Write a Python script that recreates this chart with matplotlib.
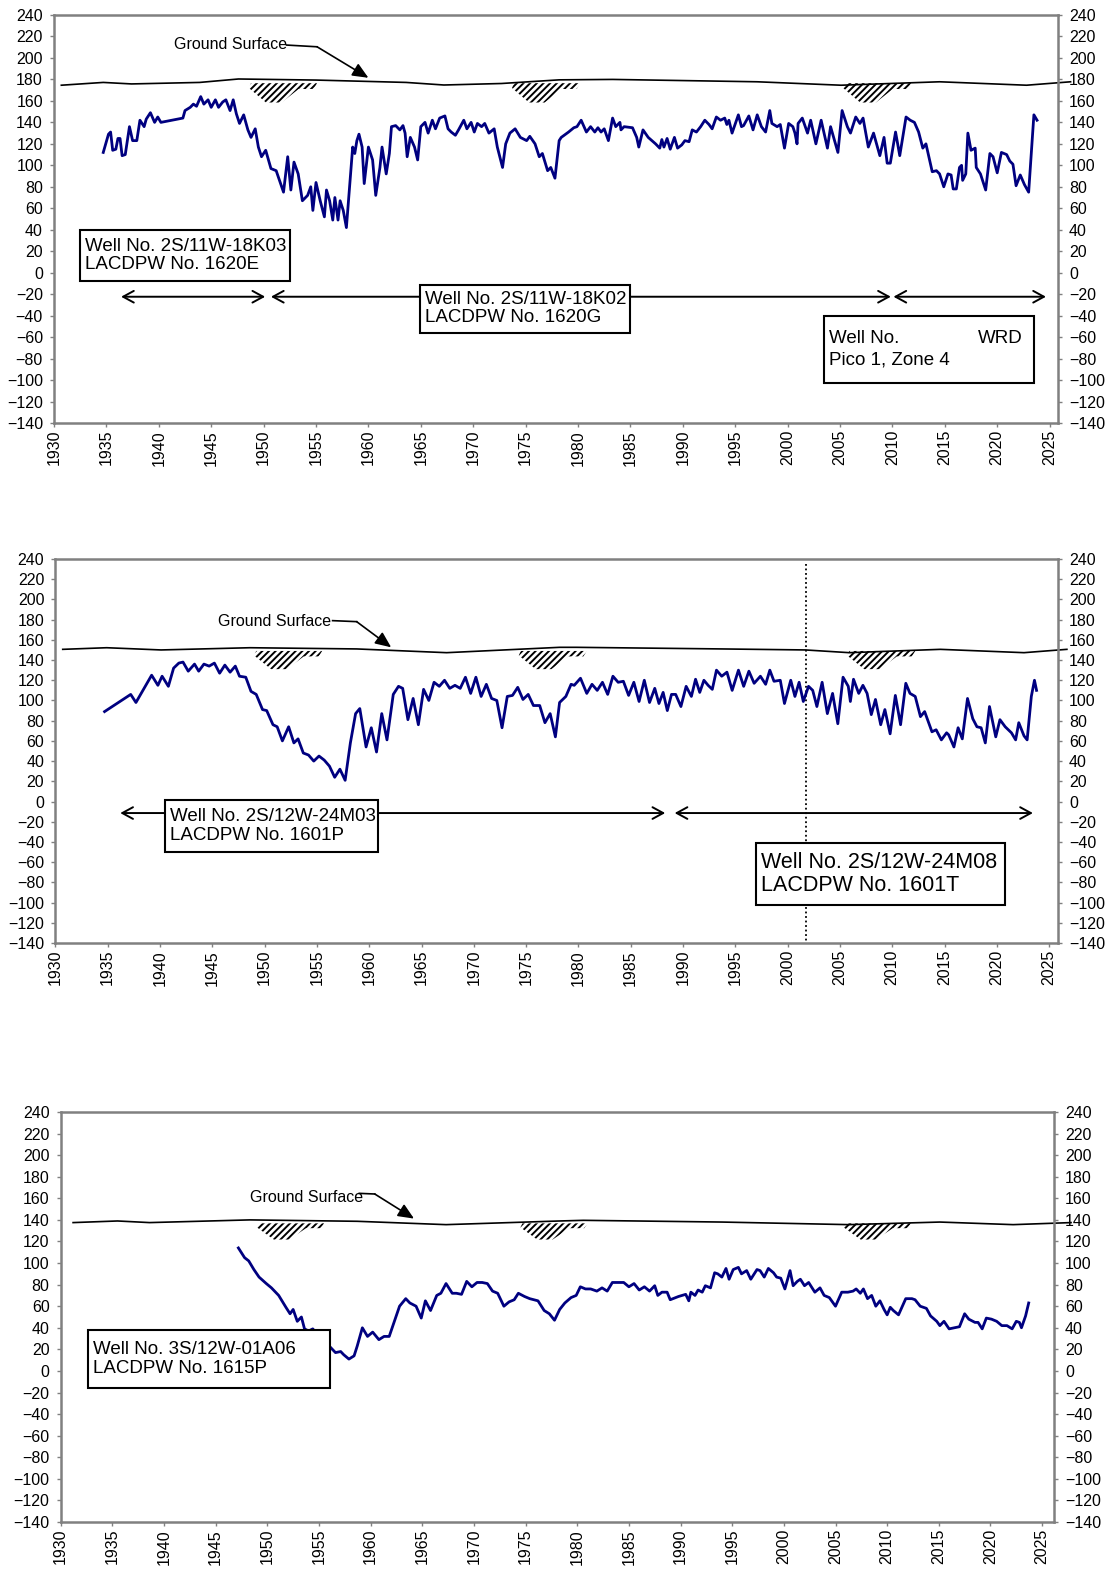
import matplotlib
matplotlib.use("Agg")
import matplotlib.pyplot as plt
from matplotlib.patches import Polygon, Rectangle

plt.rcParams["font.family"] = ["Liberation Sans", "DejaVu Sans"]
plt.rcParams["hatch.linewidth"] = 1.4

X_TICKS = list(range(1930, 2026, 5))
Y_TICKS = list(range(-140, 241, 20))

# Well 2S/11W-18K03 / 18K02 / Pico 1 water levels
p1_year = [1934.7, 1935.2, 1935.4, 1935.6, 1935.9, 1936.1, 1936.3, 1936.5, 1936.8, 1937.2, 1937.5, 1937.9,
           1938.2, 1938.6, 1938.8, 1939.2, 1939.6, 1939.9, 1940.2, 1942.3, 1942.5, 1943.0, 1943.3, 1943.6,
           1944.0, 1944.3, 1944.7, 1945.0, 1945.4, 1945.7, 1946.1, 1946.4, 1946.8, 1947.1, 1947.4, 1947.7,
           1948.1, 1948.5, 1948.8, 1949.2, 1949.5, 1949.8, 1950.2, 1950.7, 1951.2, 1951.9, 1952.3, 1952.6,
           1952.9, 1953.3, 1953.7, 1954.2, 1954.5, 1954.7, 1955.0, 1955.4, 1955.8, 1956.0, 1956.3, 1956.6,
           1956.8, 1957.1, 1957.3, 1957.6, 1957.9, 1958.2, 1958.5, 1958.7, 1958.9, 1959.1, 1959.4, 1959.6,
           1960.0, 1960.4, 1960.7, 1961.1, 1961.3, 1961.7, 1962.0, 1962.2, 1962.6, 1963.0, 1963.3, 1963.5,
           1963.7, 1964.0, 1964.4, 1964.7, 1965.0, 1965.4, 1965.7, 1966.1, 1966.4, 1966.8, 1967.3, 1967.6,
           1967.9, 1968.3, 1968.6, 1969.1, 1969.4, 1969.8, 1970.1, 1970.4, 1970.8, 1971.1, 1971.5, 1972.0,
           1972.3, 1972.8, 1973.1, 1973.5, 1974.0, 1974.5, 1975.1, 1975.4, 1975.9, 1976.3, 1976.6, 1977.1,
           1977.4, 1977.8, 1978.2, 1978.4, 1979.1, 1979.6, 1979.9, 1980.3, 1980.8, 1981.2, 1981.6, 1981.9,
           1982.2, 1982.5, 1982.9, 1983.3, 1983.6, 1984.0, 1984.1, 1984.4, 1985.2, 1985.6, 1985.8, 1986.2,
           1986.7, 1987.4, 1987.8, 1988.0, 1988.2, 1988.5, 1988.8, 1989.2, 1989.5, 1989.9, 1990.2, 1990.6,
           1990.9, 1991.3, 1991.7, 1992.1, 1992.5, 1992.8, 1993.2, 1993.6, 1994.0, 1994.2, 1994.4, 1994.7,
           1995.3, 1995.6, 1995.8, 1996.3, 1996.7, 1997.1, 1997.5, 1997.9, 1998.3, 1998.5, 1999.0, 1999.3,
           1999.7, 2000.1, 2000.5, 2000.7, 2000.9, 2001.0, 2001.4, 2001.9, 2002.2, 2002.7, 2003.2, 2003.8,
           2004.1, 2004.8, 2005.2, 2005.7, 2006.0, 2006.5, 2006.9, 2007.2, 2007.7, 2008.2, 2008.8, 2009.2,
           2009.5, 2009.8, 2010.3, 2010.7, 2011.3, 2011.7, 2012.1, 2012.5, 2012.9, 2013.2, 2013.8, 2014.2,
           2014.5, 2014.9, 2015.3, 2015.6, 2015.8, 2016.1, 2016.4, 2016.6, 2016.7, 2017.0, 2017.2, 2017.5,
           2017.9, 2018.0, 2018.4, 2018.9, 2019.3, 2019.6, 2020.0, 2020.4, 2020.9, 2021.2, 2021.5, 2021.8,
           2022.2, 2022.6, 2023.0, 2023.5, 2023.8]
p1_level = [112, 129, 131, 114, 115, 125, 125, 109, 110, 136, 123, 123,
            142, 136, 143, 149, 140, 145, 140, 144, 151, 154, 157, 155,
            164, 157, 161, 154, 161, 154, 159, 161, 151, 161, 148, 139,
            147, 133, 126, 134, 117, 108, 114, 97, 95, 75, 108, 77,
            103, 92, 67, 72, 80, 58, 84, 67, 52, 77, 67, 49,
            70, 49, 67, 58, 42, 80, 117, 111, 123, 129, 117, 83,
            117, 105, 72, 98, 117, 92, 111, 136, 137, 133, 137, 130,
            108, 126, 117, 105, 136, 140, 130, 142, 134, 144, 146, 134,
            131, 128, 133, 142, 134, 140, 131, 139, 136, 139, 130, 134,
            117, 98, 120, 130, 134, 126, 123, 127, 120, 108, 111, 95,
            98, 88, 123, 126, 131, 135, 136, 142, 131, 136, 131, 135,
            131, 134, 123, 144, 136, 140, 133, 136, 135, 126, 117, 133,
            126, 120, 116, 124, 117, 125, 115, 126, 116, 119, 123, 122,
            133, 131, 136, 142, 138, 134, 145, 142, 144, 138, 142, 130,
            147, 136, 137, 146, 133, 147, 136, 131, 151, 139, 136, 138,
            116, 139, 136, 130, 120, 139, 144, 130, 142, 120, 142, 116,
            136, 112, 151, 136, 130, 145, 139, 144, 117, 130, 109, 126,
            102, 102, 131, 109, 145, 142, 140, 131, 116, 120, 94, 95,
            92, 80, 92, 91, 78, 78, 98, 100, 86, 92, 130, 114,
            116, 98, 92, 77, 111, 108, 93, 112, 110, 104, 101, 81,
            91, 82, 75, 147, 142]

# Well 2S/12W-24M03 / 24M08 water levels
p2_year = [1934.7, 1937.2, 1937.7, 1939.2, 1939.8, 1940.2, 1940.8, 1941.3, 1941.8, 1942.2, 1942.7, 1943.3,
           1943.7, 1944.2, 1944.7, 1945.2, 1945.7, 1946.2, 1946.7, 1947.2, 1947.6, 1948.2, 1948.7, 1949.2,
           1949.8, 1950.2, 1950.8, 1951.2, 1951.7, 1952.3, 1952.8, 1953.2, 1953.7, 1954.2, 1954.7, 1955.2,
           1955.7, 1956.2, 1956.7, 1957.2, 1957.7, 1958.2, 1958.7, 1959.1, 1959.7, 1960.2, 1960.7, 1961.2,
           1961.7, 1962.3, 1962.8, 1963.2, 1963.7, 1964.2, 1964.7, 1965.2, 1965.7, 1966.2, 1966.7, 1967.2,
           1967.7, 1968.2, 1968.7, 1969.2, 1969.7, 1970.2, 1970.7, 1971.2, 1971.7, 1972.2, 1972.7, 1973.2,
           1973.7, 1974.2, 1974.7, 1975.2, 1975.7, 1976.3, 1976.8, 1977.3, 1977.8, 1978.2, 1978.8, 1979.3,
           1979.6, 1980.2, 1980.8, 1981.3, 1981.8, 1982.3, 1982.8, 1983.3, 1983.8, 1984.3, 1984.8, 1985.3,
           1985.8, 1986.3, 1986.8, 1987.3, 1987.7, 1988.1, 1988.5, 1988.9, 1989.3, 1989.8, 1990.3, 1990.8,
           1991.2, 1991.6, 1992.0, 1992.4, 1992.8, 1993.2, 1993.7, 1994.2, 1994.7, 1995.3, 1995.8, 1996.3,
           1996.8, 1997.4, 1997.9, 1998.3, 1998.7, 1999.3, 1999.7, 2000.3, 2000.7, 2001.1, 2001.5, 2002.0,
           2002.4, 2002.8, 2003.3, 2003.8, 2004.3, 2004.8, 2005.3, 2005.8, 2006.0, 2006.3, 2006.8, 2007.2,
           2007.6, 2008.0, 2008.4, 2008.9, 2009.3, 2009.8, 2010.3, 2010.8, 2011.3, 2011.7, 2012.2, 2012.7,
           2013.1, 2013.8, 2014.2, 2014.7, 2015.2, 2015.4, 2015.9, 2016.3, 2016.7, 2017.2, 2017.7, 2018.1,
           2018.5, 2018.9, 2019.3, 2019.6, 2019.9, 2020.3, 2020.8, 2021.4, 2021.8, 2022.1, 2022.6, 2022.9,
           2023.3, 2023.6, 2023.8]
p2_level = [89, 106, 98, 125, 115, 124, 114, 132, 137, 138, 129, 136,
            129, 136, 134, 137, 127, 135, 128, 134, 124, 123, 109, 106,
            91, 90, 76, 74, 60, 74, 58, 62, 48, 46, 40, 45,
            41, 35, 24, 32, 21, 58, 87, 92, 54, 73, 49, 87,
            61, 106, 114, 112, 81, 102, 76, 111, 100, 118, 114, 120,
            112, 115, 112, 123, 107, 123, 104, 116, 102, 100, 73, 104,
            105, 113, 101, 106, 95, 95, 78, 87, 64, 98, 104, 116,
            115, 122, 107, 116, 110, 118, 106, 124, 118, 119, 105, 118,
            99, 120, 98, 112, 97, 108, 90, 106, 106, 94, 114, 104,
            121, 108, 120, 115, 111, 130, 124, 128, 110, 130, 114, 129,
            117, 124, 116, 130, 119, 120, 97, 120, 104, 118, 99, 114,
            110, 94, 118, 87, 107, 77, 123, 114, 99, 121, 107, 115,
            107, 86, 101, 76, 91, 67, 105, 76, 117, 107, 104, 84,
            89, 69, 71, 61, 68, 66, 54, 73, 62, 102, 82, 74,
            73, 58, 94, 79, 64, 81, 74, 68, 61, 78, 65, 61,
            104, 120, 110]

# Well 3S/12W-01A06 water levels
p3_year = [1947.2, 1947.8, 1948.2, 1948.7, 1949.2, 1949.9, 1950.4, 1951.1, 1951.8, 1952.2, 1952.5, 1952.9,
           1953.3, 1953.6, 1954.0, 1954.4, 1955.2, 1956.1, 1956.6, 1957.1, 1957.4, 1957.9, 1958.4, 1958.7,
           1959.2, 1959.7, 1960.2, 1960.8, 1961.3, 1961.8, 1962.3, 1962.8, 1963.4, 1963.8, 1964.4, 1964.9,
           1965.3, 1965.8, 1966.4, 1966.8, 1967.3, 1967.9, 1968.3, 1968.8, 1969.3, 1969.8, 1970.3, 1970.8,
           1971.3, 1971.8, 1972.3, 1972.9, 1973.4, 1973.9, 1974.3, 1974.9, 1975.4, 1976.2, 1976.8, 1977.3,
           1977.8, 1978.3, 1978.8, 1979.4, 1979.9, 1980.3, 1980.8, 1981.3, 1981.9, 1982.4, 1982.9, 1983.4,
           1984.0, 1984.5, 1985.0, 1985.5, 1986.0, 1986.5, 1987.0, 1987.5, 1987.8, 1988.2, 1988.7, 1989.0,
           1989.8, 1990.5, 1990.8, 1991.0, 1991.4, 1991.7, 1992.1, 1992.4, 1992.9, 1993.3, 1993.6, 1994.0,
           1994.4, 1994.7, 1995.1, 1995.6, 1995.9, 1996.4, 1996.8, 1997.4, 1997.7, 1998.1, 1998.5, 1999.0,
           1999.3, 1999.7, 2000.1, 2000.6, 2000.9, 2001.3, 2001.6, 2002.0, 2002.4, 2003.0, 2003.5, 2003.9,
           2004.4, 2005.0, 2005.6, 2006.2, 2006.7, 2007.0, 2007.4, 2007.7, 2008.1, 2008.5, 2008.9, 2009.3,
           2009.7, 2010.0, 2010.3, 2010.6, 2011.1, 2011.8, 2012.4, 2012.7, 2013.2, 2013.8, 2014.2, 2014.8,
           2015.1, 2015.5, 2016.0, 2016.5, 2017.0, 2017.5, 2017.9, 2018.5, 2018.8, 2019.2, 2019.6, 2020.1,
           2020.6, 2021.1, 2021.6, 2022.1, 2022.5, 2022.8, 2023.0, 2023.4, 2023.7]
p3_level = [114, 105, 102, 94, 87, 81, 77, 70, 59, 53, 57, 46,
            50, 39, 37, 39, 30, 22, 17, 18, 15, 11, 14, 23,
            40, 32, 36, 29, 32, 32, 46, 60, 67, 63, 60, 49,
            65, 56, 70, 72, 81, 72, 72, 71, 83, 78, 82, 82,
            81, 74, 72, 60, 64, 66, 72, 69, 67, 65, 56, 53,
            47, 57, 63, 68, 70, 78, 76, 76, 74, 77, 74, 82,
            82, 82, 78, 81, 75, 78, 74, 79, 70, 73, 73, 66,
            69, 71, 65, 73, 70, 75, 73, 79, 77, 91, 90, 87,
            95, 85, 94, 96, 90, 93, 85, 94, 93, 87, 95, 91,
            87, 86, 76, 93, 79, 83, 85, 79, 82, 73, 77, 70,
            68, 60, 73, 73, 74, 76, 72, 76, 67, 70, 60, 65,
            57, 52, 59, 56, 52, 67, 67, 66, 60, 58, 51, 46,
            42, 46, 39, 40, 41, 53, 48, 45, 45, 39, 49, 48,
            46, 42, 42, 39, 46, 45, 40, 51, 63]

# ground surface elevation profiles
g1_year = [1930.7, 1934.7, 1937.4, 1943.9, 1947.6, 1955.0, 1963.6, 1967.2, 1972.7, 1978.2, 1983.3, 1997.1,
           2005.1, 2014.5, 2022.8, 2027.0]
g1_level = [174.6, 177.2, 175.8, 177.2, 180.4, 179.4, 177.2, 174.8, 176.2, 179.6, 180.0, 177.8,
            174.6, 177.8, 174.6, 177.8]
g2_year = [1930.7, 1934.9, 1940.1, 1948.6, 1958.8, 1967.4, 1978.2, 1979.8, 1993.7, 2001.7, 2005.9, 2014.6,
           2022.6, 2026.7]
g2_level = [150.6, 152.2, 150.0, 152.2, 151.0, 147.3, 152.6, 152.6, 151.0, 150.0, 147.3, 150.6,
            147.3, 150.6]
g3_year = [1931.2, 1935.5, 1938.6, 1948.3, 1958.7, 1967.3, 1978.3, 1980.6, 1994.0, 2006.3, 2015.1, 2022.2,
           2027.8]
g3_level = [137.5, 139.0, 137.5, 140.0, 138.7, 135.6, 139.0, 139.6, 138.0, 135.6, 138.0, 135.6, 137.5]

NAVY = "#000080"
GRAY = "#808080"
FIG_W, FIG_H = 1110, 1570


def setup_axes(fig, px_box, xmax):
    left, right, top, bottom = px_box
    ax = fig.add_axes([left / FIG_W, 1 - bottom / FIG_H, (right - left) / FIG_W, (bottom - top) / FIG_H])
    ax.set_xlim(1930, xmax)
    ax.set_ylim(-140, 240)
    ax.set_xticks(X_TICKS)
    ax.set_yticks(Y_TICKS)
    for side in ["left", "right", "top", "bottom"]:
        ax.spines[side].set_color(GRAY)
        ax.spines[side].set_linewidth(1.8)
    ax.tick_params(axis="y", left=True, right=True, labelleft=True, labelright=True,
                   direction="out", length=3, width=1, color=GRAY, labelsize=11.5, pad=5)
    ax.tick_params(axis="x", bottom=True, top=False, direction="out", length=3, width=1,
                   color=GRAY, labelsize=11.5, labelrotation=90, pad=2)
    return ax


def ground_hatch(ax, x0, top, width=6.5, depth=18.0):
    shape = [(0.0, -0.25), (0.03, 0.0), (1.0, 0.0), (0.95, -0.3), (0.73, -0.3), (0.48, -1.0), (0.25, -1.0)]
    pts = [(x0 + fx * width, top + fy * depth) for fx, fy in shape]
    ax.add_patch(Polygon(pts, closed=True, fill=False, hatch="/////", lw=0, ec="black"))


def ground_label(ax, text_x, text_y, start, bend, tip):
    ax.text(text_x, text_y, "Ground Surface", ha="right", va="center", fontsize=11.5)
    ax.plot([start[0], bend[0]], [start[1], bend[1]], color="black", lw=1.2)
    ax.annotate("", xy=tip, xytext=bend,
                arrowprops=dict(arrowstyle="-|>,head_length=0.8,head_width=0.35", color="black",
                                lw=1.2, shrinkA=0, shrinkB=0, mutation_scale=12))


def label_box(ax, x0, x1, y0, y1, lines, size=13.5):
    ax.add_patch(Rectangle((x0, y1), x1 - x0, y0 - y1, fc="white", ec="black", lw=1.5, zorder=5))
    if lines:
        ax.text(x0 + 0.45, (y0 + y1) / 2, "\n".join(lines), ha="left", va="center",
                fontsize=size, linespacing=1.1, zorder=6)


def span_arrow(ax, x0, x1, y, style):
    ax.annotate("", xy=(x1, y), xytext=(x0, y), zorder=4,
                arrowprops=dict(arrowstyle=style + ",head_length=0.55,head_width=0.3", color="black",
                                lw=1.4, shrinkA=0, shrinkB=0, mutation_scale=14))


def main():
    fig = plt.figure(figsize=(FIG_W / 100, FIG_H / 100), dpi=100)

    # panel 1
    ax1 = setup_axes(fig, (54, 1058, 15, 423), 2025.8)
    ax1.plot(g1_year, g1_level, color="black", lw=1.2, clip_on=False)
    for x0 in [1948.6, 1973.7, 2005.3]:
        ground_hatch(ax1, x0, 176.5)
    ground_label(ax1, 1952.2, 212.6, (1952.2, 212.0), (1955.1, 210.4), (1960.0, 181.5))
    ax1.plot(p1_year, p1_level, color=NAVY, lw=2.0, zorder=3)
    label_box(ax1, 1932.5, 1952.55, 39.3, -7.4, ["Well No. 2S/11W-18K03", "LACDPW No. 1620E"])
    span_arrow(ax1, 1936.4, 1950.15, -22.4, "<->")
    span_arrow(ax1, 1950.7, 1965.0, -22.4, "<-")
    span_arrow(ax1, 1985.0, 2009.85, -22.4, "->")
    span_arrow(ax1, 2010.1, 2024.65, -22.4, "<->")
    label_box(ax1, 1964.96, 1985.0, -11.2, -56.0, ["Well No. 2S/11W-18K02", "LACDPW No. 1620G"])
    label_box(ax1, 2003.5, 2023.5, -40.1, -102.7, [])
    ax1.text(2003.95, -61.6, "Well No.", ha="left", va="center", fontsize=13.5, zorder=6)
    ax1.text(2022.45, -61.6, "WRD", ha="right", va="center", fontsize=13.5, zorder=6)
    ax1.text(2003.95, -81.2, "Pico 1, Zone 4", ha="left", va="center", fontsize=13.5, zorder=6)

    # panel 2
    ax2 = setup_axes(fig, (55.4, 1058, 559, 943), 2025.85)
    ax2.plot(g2_year, g2_level, color="black", lw=1.2, clip_on=False)
    for x0 in [1949.0, 1974.3, 2005.7]:
        ground_hatch(ax2, x0, 149.0)
    ground_label(ax2, 1956.4, 178.0, (1956.5, 179.0), (1958.8, 178.0), (1962.1, 152.6))
    ax2.plot(p2_year, p2_level, color=NAVY, lw=2.0, zorder=3)
    ax2.plot([2001.75, 2001.75], [235, -140], color="black", lw=1.3, ls=(0, (1, 1.5)), zorder=2)
    span_arrow(ax2, 1940.5, 1936.2, -11.4, "->")
    span_arrow(ax2, 1960.8, 1988.3, -11.4, "->")
    span_arrow(ax2, 1989.2, 2023.45, -11.4, "<->")
    label_box(ax2, 1940.48, 1960.84, 1.5, -50.0, ["Well No. 2S/12W-24M03", "LACDPW No. 1601P"])
    label_box(ax2, 1996.97, 2020.78, -41.0, -102.4, ["Well No. 2S/12W-24M08", "LACDPW No. 1601T"], size=15.5)

    # panel 3
    ax3 = setup_axes(fig, (60.7, 1054, 1112, 1522), 2026.15)
    ax3.plot(g3_year, g3_level, color="black", lw=1.2, clip_on=False)
    for x0 in [1949.0, 1974.5, 2005.8]:
        ground_hatch(ax3, x0, 136.8, depth=15.0)
    ground_label(ax3, 1959.3, 160.3, (1958.9, 164.6), (1960.4, 164.0), (1964.2, 141.2))
    ax3.plot(p3_year, p3_level, color=NAVY, lw=2.0, zorder=3)
    label_box(ax3, 1932.64, 1956.07, 38.0, -15.8, ["Well No. 3S/12W-01A06", "LACDPW No. 1615P"])

    fig.savefig("out.png", dpi=100)
    plt.close(fig)


if __name__ == "__main__":
    main()
